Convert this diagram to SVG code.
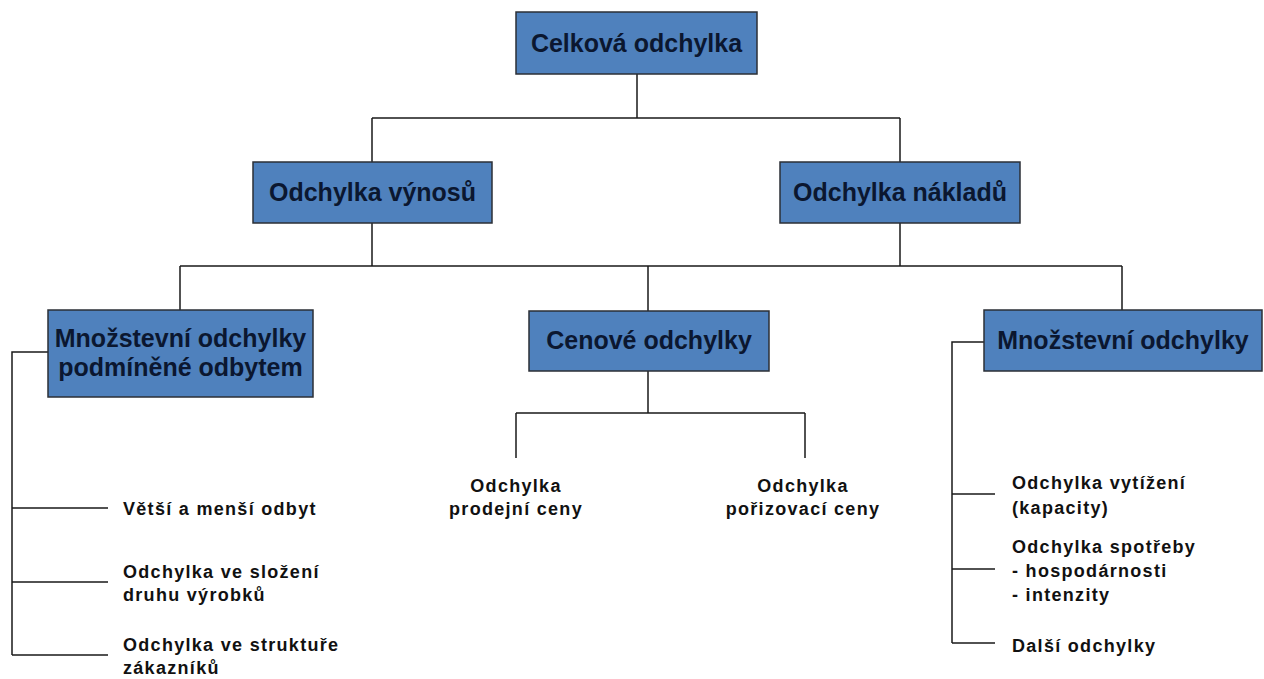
<svg xmlns="http://www.w3.org/2000/svg" width="1264" height="679" viewBox="0 0 1264 679">
  <style>
    .box { fill: #4f81bd; stroke: #2b2f36; stroke-width: 1.5; }
    .bt { font-family: "Liberation Sans", Arial, sans-serif; font-weight: bold; font-size: 25px; fill: #0b1730; text-anchor: middle; }
    .lt { font-family: "Liberation Sans", Arial, sans-serif; font-weight: bold; font-size: 18px; fill: #111; letter-spacing: 1.3px; }
    .lc { text-anchor: middle; }
    .conn { fill: none; stroke: #1a1a1a; stroke-width: 1.5; }
  </style>
  <rect width="1264" height="679" fill="#ffffff"/>

  <!-- connectors -->
  <g id="connectors" class="conn">
    <path d="M637 74V118M372 118H900M372 118V162M900 118V162"/>
    <path d="M372 223V266M900 223V266M180 266H1122M180 266V310M648 266V311M1122 266V310"/>
    <path d="M648 371V413M516 413H805M516 413V458M805 413V458"/>
    <path d="M48 352H12V655M12 508H108M12 582H108M12 655H108"/>
    <path d="M984 342H952V643M952 494H995M952 569H995M952 643H995"/>
  </g>

  <g id="celkova">
    <rect class="box" x="516" y="12" width="241" height="62"/>
    <text class="bt" x="636.5" y="52">Celková odchylka</text>
  </g>
  <g id="vynosy">
    <rect class="box" x="253" y="162" width="239" height="61"/>
    <text class="bt" x="372.5" y="201">Odchylka výnosů</text>
  </g>
  <g id="naklady">
    <rect class="box" x="780" y="162" width="240" height="61"/>
    <text class="bt" x="900" y="201">Odchylka nákladů</text>
  </g>
  <g id="mnozstevni-odbyt">
    <rect class="box" x="48" y="310" width="265" height="87"/>
    <text class="bt" x="180.5" y="347">Množstevní odchylky</text>
    <text class="bt" x="180.5" y="376">podmíněné odbytem</text>
  </g>
  <g id="cenove">
    <rect class="box" x="529" y="311" width="240" height="60"/>
    <text class="bt" x="649" y="349">Cenové odchylky</text>
  </g>
  <g id="mnozstevni">
    <rect class="box" x="984" y="310" width="278" height="61"/>
    <text class="bt" x="1123" y="349">Množstevní odchylky</text>
  </g>

  <g id="vetsi-mensi">
    <text class="lt" x="123" y="515">Větší a menší odbyt</text>
  </g>
  <g id="slozeni">
    <text class="lt" x="123" y="578">Odchylka ve složení</text>
    <text class="lt" x="123" y="601">druhu výrobků</text>
  </g>
  <g id="struktura">
    <text class="lt" x="123" y="651">Odchylka ve struktuře</text>
    <text class="lt" x="123" y="674">zákazníků</text>
  </g>
  <g id="prodejni">
    <text class="lt lc" x="516" y="492">Odchylka</text>
    <text class="lt lc" x="516" y="515">prodejní ceny</text>
  </g>
  <g id="porizovaci">
    <text class="lt lc" x="803" y="492">Odchylka</text>
    <text class="lt lc" x="803" y="515">pořizovací ceny</text>
  </g>
  <g id="vytizeni">
    <text class="lt" x="1012" y="489">Odchylka vytížení</text>
    <text class="lt" x="1012" y="514">(kapacity)</text>
  </g>
  <g id="spotreba">
    <text class="lt" x="1012" y="553">Odchylka spotřeby</text>
    <text class="lt" x="1012" y="577"> - hospodárnosti</text>
    <text class="lt" x="1012" y="601"> - intenzity</text>
  </g>
  <g id="dalsi">
    <text class="lt" x="1012" y="652">Další odchylky</text>
  </g>
</svg>
